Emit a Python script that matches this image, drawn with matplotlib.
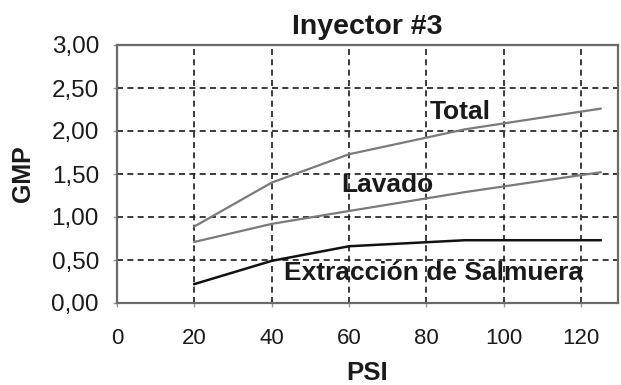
import matplotlib.pyplot as plt

plt.rcParams['font.family'] = ['Liberation Sans', 'DejaVu Sans']

psi = [20, 40, 60, 90, 125]
total = [0.89, 1.40, 1.73, 2.02, 2.26]
lavado = [0.71, 0.92, 1.07, 1.29, 1.52]
salmuera = [0.22, 0.49, 0.66, 0.73, 0.73]

x_ticks = [0, 20, 40, 60, 80, 100, 120]
y_ticks = [0, 0.5, 1.0, 1.5, 2.0, 2.5, 3.0]
y_labels = ['0,00', '0,50', '1,00', '1,50', '2,00', '2,50', '3,00']

fig = plt.figure(figsize=(6.21, 3.85), dpi=100)
ax = fig.add_axes([117 / 621, 1 - 303 / 385, 501 / 621, 258 / 385])

ax.plot(psi, total, color='#7a7a7a', linewidth=1.6)
ax.plot(psi, lavado, color='#7a7a7a', linewidth=1.6)
ax.plot(psi, salmuera, color='#111111', linewidth=1.8)

ax.set_xlim(0, 129.5)
ax.set_ylim(0, 3)
ax.set_xticks(x_ticks)
ax.set_yticks(y_ticks)
ax.set_yticklabels(y_labels)
ax.tick_params(colors='#999999', labelcolor='#1a1a1a', length=3, width=1.0)
ax.tick_params(axis='x', labelsize=16, pad=15)
ax.tick_params(axis='y', labelsize=17.5, pad=10)

# dashed grid, skipping the frame lines
for v in x_ticks[1:]:
    ax.axvline(v, color='#1a1a1a', linestyle=(0, (3.6, 2.6)), linewidth=1.2, zorder=0)
for v in y_ticks[1:-1]:
    ax.axhline(v, color='#1a1a1a', linestyle=(0, (3.6, 2.6)), linewidth=1.2, zorder=0)

for s in ax.spines.values():
    s.set_color('#6a6a6a')
    s.set_linewidth(1.6)

ax.text(88.6, 2.22, 'Total', fontsize=19, fontweight='bold', color='#1a1a1a', ha='center', va='center')
ax.text(70, 1.37, 'Lavado', fontsize=19, fontweight='bold', color='#1a1a1a', ha='center', va='center')
ax.text(81.9, 0.35, 'Extracción de Salmuera', fontsize=19, fontweight='bold', color='#1a1a1a', ha='center', va='center')

ax.set_title('Inyector #3', fontsize=20.5, fontweight='bold', color='#1a1a1a', pad=8)
ax.set_xlabel('PSI', fontsize=18.5, fontweight='bold', color='#1a1a1a', labelpad=9)
ax.set_ylabel('GMP', fontsize=18, fontweight='bold', color='#1a1a1a', labelpad=12)

fig.savefig('out.png', dpi=100)
